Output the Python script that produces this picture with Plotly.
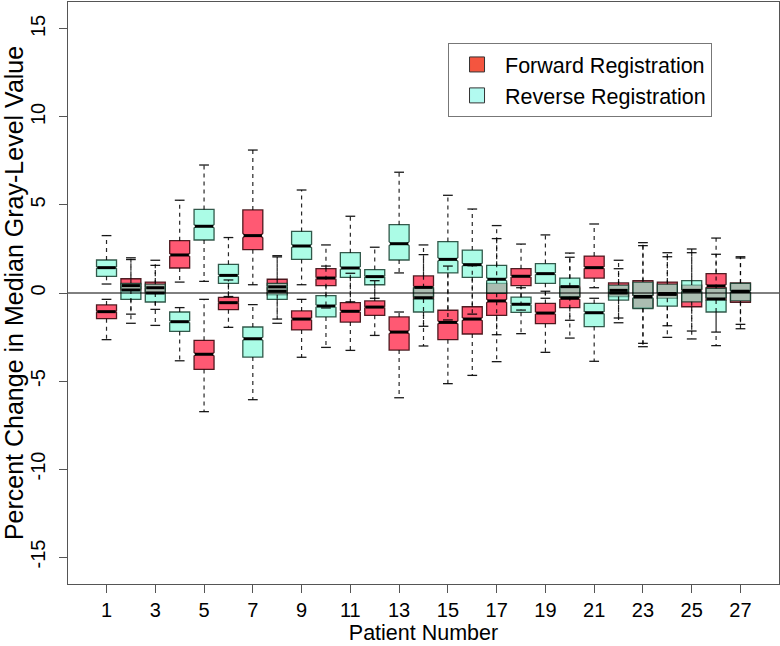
import plotly.graph_objects as go

patients = list(range(1, 28))

# Forward registration: lower whisker, Q1, median, Q3, upper whisker
fwd_low = [-2.65, -1.20, -0.93, 0.62, -6.74, -1.95, 0.47, -1.48, -3.65, -0.85,
           -3.26, -2.41, -5.95, -1.89, -5.15, -4.68, -3.90, -0.97, -3.37, -2.56,
           0.30, -1.42, -2.86, -1.86, -2.61, -2.22, -1.78]
fwd_q1 = [-1.46, 0.17, 0.00, 1.42, -4.34, -0.95, 2.46, -0.10, -2.10, 0.42,
          -1.65, -1.27, -3.24, -0.34, -2.65, -2.33, -1.27, 0.42, -1.74, -0.83,
          0.85, -0.20, -0.85, -0.30, -0.78, -0.40, -0.53]
fwd_med = [-1.06, 0.42, 0.30, 2.16, -3.48, -0.55, 3.26, 0.35, -1.48, 0.85,
           -1.04, -0.80, -2.22, 0.32, -1.67, -1.48, -0.45, 0.95, -1.14, -0.30,
           1.44, 0.15, -0.23, -0.03, 0.10, 0.40, 0.10]
fwd_q3 = [-0.68, 0.81, 0.62, 2.97, -2.69, -0.25, 4.72, 0.78, -1.02, 1.38,
          -0.55, -0.45, -1.36, 0.97, -0.98, -0.78, 0.55, 1.38, -0.59, 0.36,
          2.10, 0.57, 0.70, 0.62, 0.45, 1.10, 0.57]
fwd_high = [-0.36, 2.00, 1.57, 5.27, -0.36, 0.74, 8.12, 2.12, -0.36, 2.73,
            1.12, 0.70, -1.08, 2.73, 1.53, 1.55, 3.09, 2.78, 0.10, 2.03,
            3.92, 1.86, 2.86, 2.29, 2.50, 3.12, 1.99]

# Reverse registration
rev_low = [0.51, -1.72, -1.84, -3.85, 0.66, -0.20, -6.06, -1.72, 0.47, -3.09,
           -0.50, -0.30, 1.14, -3.01, -1.53, -1.20, -2.37, -2.31, -0.30, -1.55,
           -3.88, -1.69, -3.05, -2.52, -2.16, -2.99, -2.03]
rev_q1 = [0.95, -0.36, -0.51, -2.18, 3.01, 0.55, -3.64, -0.36, 1.91, -1.36,
          0.89, 0.47, 1.875, -1.08, 1.14, 0.89, -0.02, -1.10, 0.55, -0.21,
          -1.91, -0.40, -0.89, -0.75, -0.50, -1.08, -0.45]
rev_med = [1.44, 0.17, 0.00, -1.63, 3.79, 1.00, -2.60, 0.10, 2.67, -0.74,
           1.42, 0.93, 2.80, -0.27, 1.91, 1.61, 0.78, -0.64, 1.10, 0.36,
           -1.12, 0.00, -0.20, -0.08, 0.15, -0.34, 0.08]
rev_q3 = [1.875, 0.55, 0.50, -1.08, 4.75, 1.63, -1.93, 0.55, 3.50, -0.15,
          2.29, 1.33, 3.88, 0.30, 2.92, 2.44, 1.57, -0.23, 1.67, 0.85,
          -0.59, 0.45, 0.62, 0.50, 0.70, 0.26, 0.55]
rev_high = [3.26, 1.90, 1.86, -0.83, 7.27, 3.15, -0.66, 2.05, 5.85, 1.53,
            4.36, 2.60, 6.86, 2.18, 5.55, 4.77, 3.83, 0.30, 3.30, 2.27,
            -0.30, 1.38, 2.69, 2.06, 2.29, 2.20, 2.06]

x_ticks = list(range(1, 28, 2))
y_ticks = [-15, -10, -5, 0, 5, 10, 15]

BOX_W = 0.82
CAP_HALF = 0.2
MED_HALF = 0.37
FONT = "Liberation Sans"

series = [
    dict(name="Forward Registration", low=fwd_low, q1=fwd_q1, med=fwd_med, q3=fwd_q3, high=fwd_high,
         fill="rgba(255,0,40,0.65)", edge="rgba(60,10,15,0.9)", legend="#F4553F"),
    dict(name="Reverse Registration", low=rev_low, q1=rev_q1, med=rev_med, q3=rev_q3, high=rev_high,
         fill="rgba(120,250,215,0.62)", edge="rgba(20,60,45,0.85)", legend="#B2FAF0"),
]

fig = go.Figure()

for s in series:
    fig.add_trace(go.Box(
        x=patients, q1=s["q1"], median=s["med"], q3=s["q3"],
        lowerfence=s["q1"], upperfence=s["q3"],
        notched=True,
        notchspan=[0.06 * (b - a) for a, b in zip(s["q1"], s["q3"])],
        notchwidth=0.1, width=BOX_W, whiskerwidth=0,
        fillcolor=s["fill"], line=dict(color=s["edge"], width=1.3),
        boxpoints=False, showlegend=False, hoverinfo="skip",
    ))

for s in series:
    wx, wy, cx, cy, mx, my = [], [], [], [], [], []
    for p, lo, a, m, b, hi in zip(patients, s["low"], s["q1"], s["med"], s["q3"], s["high"]):
        wx += [p, p, None, p, p, None]
        wy += [b, hi, None, a, lo, None]
        cx += [p - CAP_HALF, p + CAP_HALF, None, p - CAP_HALF, p + CAP_HALF, None]
        cy += [hi, hi, None, lo, lo, None]
        mx += [p - MED_HALF, p + MED_HALF, None]
        my += [m, m, None]
    fig.add_trace(go.Scatter(x=wx, y=wy, mode="lines", line=dict(color="rgba(0,0,0,0.85)", width=1.2, dash="4px,4px"),
                             showlegend=False, hoverinfo="skip"))
    fig.add_trace(go.Scatter(x=cx, y=cy, mode="lines", line=dict(color="rgba(0,0,0,0.9)", width=1.3),
                             showlegend=False, hoverinfo="skip"))
    fig.add_trace(go.Scatter(x=mx, y=my, mode="lines", line=dict(color="black", width=3),
                             showlegend=False, hoverinfo="skip"))

for s in series:
    fig.add_trace(go.Scatter(
        x=[None], y=[None], mode="markers", name=s["name"],
        marker=dict(symbol="square", size=15, color=s["legend"], line=dict(color="#333", width=1)),
    ))

fig.add_shape(type="line", xref="paper", x0=0, x1=1, yref="y", y0=0, y1=0,
              line=dict(color="black", width=1), layer="above")

fig.update_layout(
    width=780, height=646,
    margin=dict(l=68, r=1, t=2, b=62, autoexpand=False),
    paper_bgcolor="white", plot_bgcolor="white",
    boxmode="overlay",
    font=dict(family=FONT, size=20, color="black"),
    showlegend=True,
    legend=dict(x=0.5345, y=0.9296, xanchor="left", yanchor="top",
                bordercolor="#777", borderwidth=1, bgcolor="white",
                font=dict(family=FONT, size=21.5), itemwidth=46,
                tracegroupgap=0),
    xaxis=dict(range=[-0.58, 28.58], tickmode="array", tickvals=x_ticks,
               ticktext=[str(v) for v in x_ticks], automargin=False,
               showgrid=False, zeroline=False, showline=True, mirror=True,
               linecolor="#555", linewidth=1.2, ticks="outside", ticklen=8, tickcolor="#555",
               tickfont=dict(size=20),
               title=dict(text="Patient Number", font=dict(size=21.5), standoff=4)),
    yaxis=dict(range=[-16.53, 16.53], tickmode="array", tickvals=y_ticks,
               ticktext=[str(v) for v in y_ticks], automargin=False,
               showgrid=False, zeroline=False, showline=True, mirror=True,
               linecolor="#555", linewidth=1.2, ticks="outside", ticklen=8, tickcolor="#555",
               tickangle=-90, tickfont=dict(size=20), ticklabelstandoff=6,
               title=dict(text="Percent Change in Median Gray-Level Value", font=dict(size=25), standoff=4)),
)

fig.write_html("out.html", config={"displayModeBar": False},
               post_script="document.body.style.margin='0';")
